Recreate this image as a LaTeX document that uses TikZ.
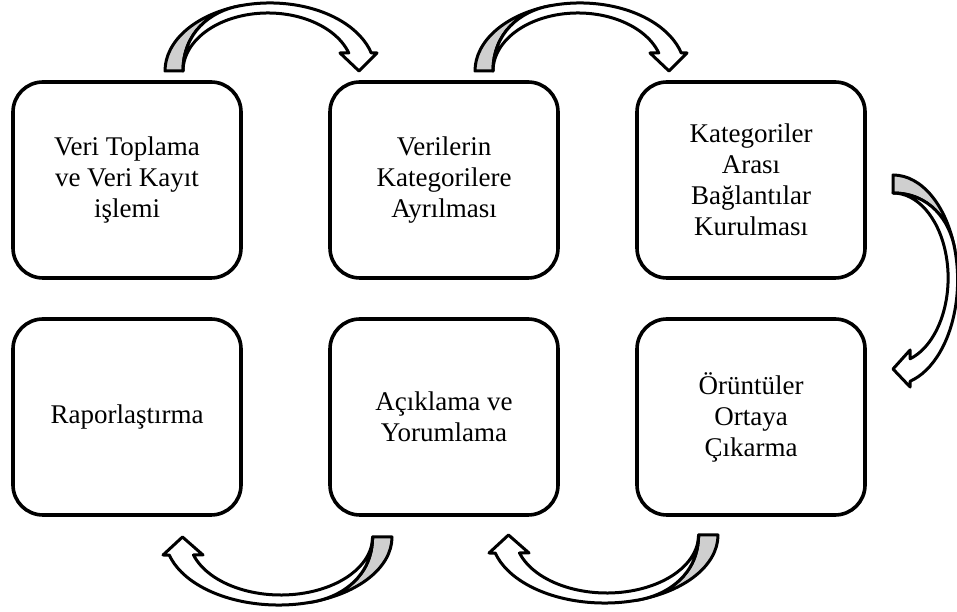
\documentclass[tikz,border=0pt]{standalone}
\usepackage{fontspec}
\setmainfont{Liberation Serif}
\definecolor{backgray}{HTML}{CFCFCF}
\begin{document}
\begin{tikzpicture}[x=1pt,y=1pt,
  stage/.style={draw, line width=3.6pt, rounded corners=30pt,
    minimum width=228pt, minimum height=196pt, align=center,
    font=\fontsize{27}{31}\selectfont, inner sep=0pt},
  bandback/.style={draw, line width=3pt, line join=round, fill=backgray},
  bandfront/.style={draw, line width=3pt, line join=round, fill=white},
  % curved block arrow: tail at the origin, arching over to a head at x~194
  curvedarrow/.pic={
    % shaded back face near the tail
    \path[bandback] (0,0)
      arc[start angle=180, end angle=106.6, x radius=105, y radius=68]
      .. controls (45,60) and (18,38) .. (18,0) -- cycle;
    % front face with the arrow head
    \path[bandfront] (18,0) .. controls (18,38) and (45,60) .. (75,65.2)
      arc[start angle=106.6, end angle=15.35, x radius=105, y radius=68]
      -- (212,18) -- (194,0) -- (175,18) -- (183.8,18)
      arc[start angle=18.08, end angle=180, x radius=85, y radius=58]
      -- cycle;
  }
]
\useasboundingbox (0,0) rectangle (957,612);

% process steps
\node[stage] (b1) at (127,432) {Veri Toplama\\ve Veri Kayıt\\işlemi};
\node[stage] (b2) at (444,432) {Verilerin\\Kategorilere\\Ayrılması};
\node[stage] (b3) at (751,432) {Kategoriler\\Arası\\Bağlantılar\\Kurulması};
\node[stage] (b4) at (127,195) {Raporlaştırma};
\node[stage] (b5) at (444,195) {Açıklama ve\\Yorumlama};
\node[stage] (b6) at (751,195) {Örüntüler\\Ortaya\\Çıkarma};

% anchor points of the curved arrows
\coordinate (a12) at (165,541);
\coordinate (a23) at (475,541);
\coordinate (a36) at (893,437);
\coordinate (a65) at (718,77);
\coordinate (a54) at (392,75);

\pic at (a12) {curvedarrow};
\pic at (a23) {curvedarrow};
\pic[rotate=-90, yscale=0.95] at (a36) {curvedarrow};
\pic[rotate=180, xscale=1.08] at (a65) {curvedarrow};
\pic[rotate=180, xscale=1.08] at (a54) {curvedarrow};
\end{tikzpicture}
\end{document}
